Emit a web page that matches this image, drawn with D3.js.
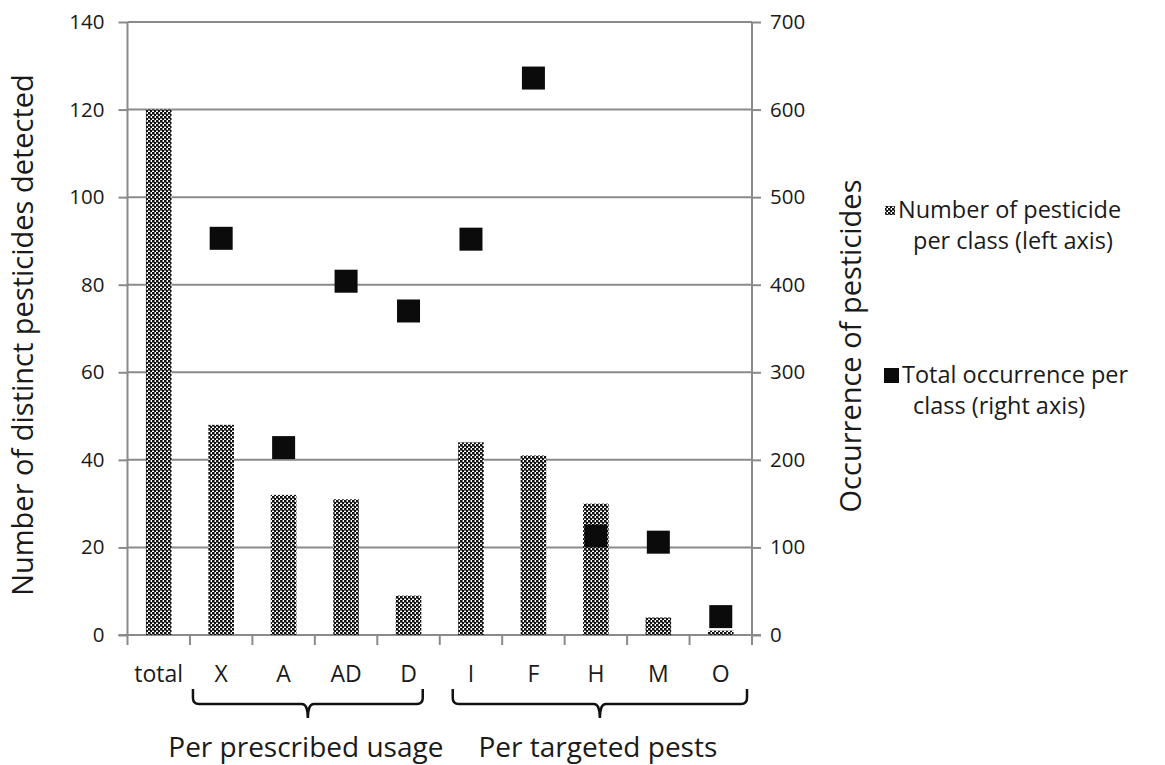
<!DOCTYPE html>
<html>
<head>
<meta charset="utf-8">
<script src="https://cdn.jsdelivr.net/npm/d3@7"></script>
<style>
  html, body { margin: 0; padding: 0; background: #fff; }
  svg text { font-family: "Open Sans", "Noto Sans", sans-serif; fill: #1a1a1a; }
</style>
</head>
<body>
<svg id="chart" width="1165" height="765"></svg>
<script>
// ---- data ----
const categories = ["total", "X", "A", "AD", "D", "I", "F", "H", "M", "O"];
const distinctCounts = [120, 48, 32, 31, 9, 44, 41, 30, 4, 1];          // left axis
const occurrences = [null, 453, 214, 404, 370, 452, 636, 113, 106, 21];  // right axis
const leftTicks = [0, 20, 40, 60, 80, 100, 120, 140];
const rightTicks = [0, 100, 200, 300, 400, 500, 600, 700];
const groupLabels = ["Per prescribed usage", "Per targeted pests"];
const groupFrom = ["X", "I"];
const groupTo = ["D", "O"];
const leftTitle = "Number of distinct pesticides detected";
const rightTitle = "Occurrence of pesticides";
const legendBarLines = ["Number of pesticide", "per class (left axis)"];
const legendSquareLines = ["Total occurrence per", "class (right axis)"];

// ---- layout ----
const svg = d3.select("#chart");
const plot = { left: 127.5, right: 752, top: 22, bottom: 635 };
const gridColor = "#8a8a8a";

const x = d3.scaleBand().domain(categories).range([plot.left, plot.right]).padding(0);
const yL = d3.scaleLinear().domain([0, 140]).range([plot.bottom, plot.top]);
const yR = d3.scaleLinear().domain([0, 700]).range([plot.bottom, plot.top]);

// pattern for bars
const defs = svg.append("defs");
const pat = defs.append("pattern").attr("id", "checker")
  .attr("patternUnits", "userSpaceOnUse").attr("width", 4).attr("height", 4);
pat.append("rect").attr("width", 4).attr("height", 4).attr("fill", "#ffffff");
pat.append("rect").attr("x", 0).attr("y", 0).attr("width", 2.6).attr("height", 2.6).attr("fill", "#111");
pat.append("rect").attr("x", 2).attr("y", 2).attr("width", 2.6).attr("height", 2.6).attr("fill", "#111");

// gridlines
svg.append("g").selectAll("line").data(leftTicks.filter(d => d > 0)).join("line")
  .attr("x1", plot.left).attr("x2", plot.right)
  .attr("y1", d => yL(d)).attr("y2", d => yL(d))
  .attr("stroke", gridColor).attr("stroke-width", 2);

// left axis
const axL = d3.axisLeft(yL).tickValues(leftTicks).tickSize(9).tickPadding(14);
const gL = svg.append("g").attr("transform", `translate(${plot.left},0)`).call(axL);
// right axis
const axR = d3.axisRight(yR).tickValues(rightTicks).tickSize(9).tickPadding(9);
const gR = svg.append("g").attr("transform", `translate(${plot.right},0)`).call(axR);
// bottom axis (ticks at band boundaries)
const boundaries = categories.map(c => x(c)).concat([plot.right]);
const gB = svg.append("g");
gB.append("line").attr("x1", plot.left - 9).attr("x2", plot.right + 9)
  .attr("y1", plot.bottom).attr("y2", plot.bottom).attr("stroke", gridColor).attr("stroke-width", 2);
gB.selectAll("line.tk").data(boundaries).join("line").attr("class", "tk")
  .attr("x1", d => d).attr("x2", d => d)
  .attr("y1", plot.bottom).attr("y2", plot.bottom + 10)
  .attr("stroke", gridColor).attr("stroke-width", 2);
gB.selectAll("text").data(categories).join("text")
  .attr("x", d => x(d) + x.bandwidth() / 2).attr("y", 682)
  .attr("text-anchor", "middle").attr("font-size", 23).text(d => d);

[gL, gR].forEach(g => {
  g.select(".domain").attr("stroke", gridColor).attr("stroke-width", 2);
  g.selectAll(".tick line").attr("stroke", gridColor).attr("stroke-width", 2);
  g.selectAll(".tick text").attr("font-size", 20.5).attr("fill", "#1a1a1a")
    .style("font-family", '"Open Sans", sans-serif');
});
gL.select(".domain").attr("d", `M0,${plot.top}V${plot.bottom}`);
gR.select(".domain").attr("d", `M0,${plot.top}V${plot.bottom}`);

// bars
const bw = x.bandwidth() * 0.41;
svg.append("g").selectAll("rect").data(categories).join("rect")
  .attr("x", d => x(d) + (x.bandwidth() - bw) / 2)
  .attr("width", bw)
  .attr("y", (d, i) => yL(distinctCounts[i]))
  .attr("height", (d, i) => yL(0) - yL(distinctCounts[i]))
  .attr("fill", "url(#checker)");

// squares
const sq = 23;
svg.append("g").selectAll("rect").data(categories.filter((d, i) => occurrences[i] != null)).join("rect")
  .attr("x", d => x(d) + x.bandwidth() / 2 - sq / 2)
  .attr("y", d => yR(occurrences[categories.indexOf(d)]) - sq / 2)
  .attr("width", sq).attr("height", sq)
  .attr("fill", "#0b0b0b");

// brackets
const insets = [[3, 17], [13, 5]];
const bTop = 689, bMid = 704, bStem = 718, r = 6;
groupLabels.forEach((lab, i) => {
  const x0 = x(groupFrom[i]) + insets[i][0];
  const x1 = x(groupTo[i]) + x.bandwidth() - insets[i][1];
  const xm = (x0 + x1) / 2;
  const p = d3.path();
  p.moveTo(x0, bTop);
  p.lineTo(x0, bMid - r);
  p.quadraticCurveTo(x0, bMid, x0 + r, bMid);
  p.lineTo(xm - r, bMid);
  p.quadraticCurveTo(xm, bMid, xm, bStem);
  p.quadraticCurveTo(xm, bMid, xm + r, bMid);
  p.lineTo(x1 - r, bMid);
  p.quadraticCurveTo(x1, bMid, x1, bMid - r);
  p.lineTo(x1, bTop);
  svg.append("path").attr("d", p.toString()).attr("fill", "none")
    .attr("stroke", "#111").attr("stroke-width", 2.5);
  svg.append("text").attr("x", xm - 2).attr("y", 757)
    .attr("text-anchor", "middle").attr("font-size", 28).text(lab);
});

// axis titles
svg.append("text").attr("transform", `translate(33,335) rotate(-90)`)
  .attr("text-anchor", "middle").attr("font-size", 29).text(leftTitle);
svg.append("text").attr("transform", `translate(861,346) rotate(-90)`)
  .attr("text-anchor", "middle").attr("font-size", 29).text(rightTitle);

// legend
const lg = svg.append("g");
lg.append("rect").attr("x", 885).attr("y", 206).attr("width", 10).attr("height", 9).attr("fill", "url(#checker)");
lg.append("text").attr("x", 898).attr("y", 218).attr("font-size", 23.5).text(legendBarLines[0]);
lg.append("text").attr("x", 913).attr("y", 249).attr("font-size", 23.5).text(legendBarLines[1]);
lg.append("rect").attr("x", 884).attr("y", 368).attr("width", 15).attr("height", 15).attr("fill", "#0b0b0b");
lg.append("text").attr("x", 902).attr("y", 383).attr("font-size", 23.5).text(legendSquareLines[0]);
lg.append("text").attr("x", 913).attr("y", 414).attr("font-size", 23.5).text(legendSquareLines[1]);
</script>
</body>
</html>
